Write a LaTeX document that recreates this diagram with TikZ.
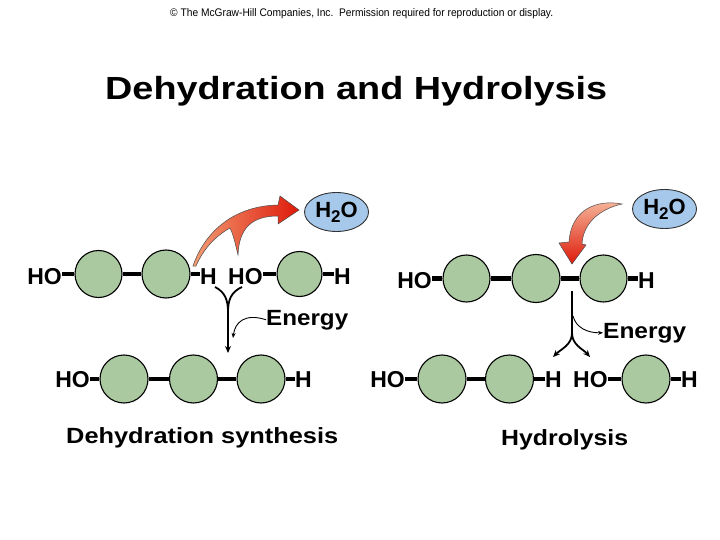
\documentclass[tikz,border=0pt]{standalone}
\usepackage{fontspec}
\setmainfont{Liberation Sans}
\usetikzlibrary{arrows.meta,shapes.geometric}
\definecolor{atomfill}{RGB}{170,201,160}
\definecolor{waterfill}{RGB}{166,200,234}
\definecolor{arrowlight}{RGB}{242,156,115}
\definecolor{arrowdark}{RGB}{222,26,10}
\newcommand\fw[2]{\resizebox{#1}{\height}{#2}}
\newcommand\wat{H\raisebox{-5pt}{\fontsize{17}{17}\selectfont 2}O}
\begin{document}
\begin{tikzpicture}[x=1pt,y=-1pt,
  atom/.style={circle,draw=black,line width=1.1pt,fill=atomfill,inner sep=0pt},
  bond/.style={line width=4.8pt},
  grp/.style={inner sep=0pt,font=\fontsize{23}{23}\selectfont\bfseries},
  water/.style={ellipse,draw=black!80,line width=0.9pt,fill=waterfill,minimum width=64pt,minimum height=39pt,inner sep=0pt,font=\fontsize{22}{22}\selectfont\bfseries},
  conn/.style={line width=1.8pt,-{Stealth[length=7pt,width=6pt]}},
  energyarrow/.style={line width=0.9pt,-{Stealth[length=5pt,width=4pt]}},
  lbl/.style={inner sep=0pt,anchor=base west,font=\fontsize{22}{22}\selectfont\bfseries},
  redarrow/.style={draw=black!70,line width=0.5pt}]
\fill[white] (0,0) rectangle (720,540);
\useasboundingbox (0,0) rectangle (720,540);

% header
\node[anchor=base west,inner sep=0pt,font=\fontsize{11}{11}\selectfont] (copy) at (170,17)
  {\fw{383pt}{\textcopyright{} The McGraw-Hill Companies, Inc.\ \ Permission required for reproduction or display.}};
\node[anchor=base west,inner sep=0pt,font=\fontsize{32}{32}\selectfont\bfseries] (title) at (105,100)
  {\fw{502pt}{Dehydration and Hydrolysis}};

% ---------- left: dehydration ----------
\node[grp,anchor=base east] (lho1) at (62,284) {HO};
\node[atom,minimum size=47pt] (la1) at (98.5,274) {};
\node[atom,minimum size=48pt] (la2) at (166,274) {};
\node[grp,anchor=base west] (lh1) at (200,284) {H};
\node[grp,anchor=base west] (lho2) at (228,284) {HO};
\node[atom,minimum size=45pt] (la3) at (299.5,274) {};
\node[grp,anchor=base west] (lh2) at (334,284) {H};
\draw[bond] (lho1.east |- la1) -- (la1.west);
\draw[bond] (la1.east) -- (la2.west);
\draw[bond] (la2.east) -- (lh1.west |- la2);
\draw[bond] (lho2.east |- la3) -- (la3.west);
\draw[bond] (la3.east) -- (lh2.west |- la3);

\node[water] (lw) at (336.5,212) {\wat};

\shadedraw[redarrow,left color=arrowlight,right color=arrowdark]
  (193,266) .. controls (203,236) and (230,206) .. (278,205) -- (280,196) -- (299,210)
  -- (278,224) -- (278,216) .. controls (252,216) and (239,228) .. (238,255)
  .. controls (235,242) and (233,234) .. (230,228)
  .. controls (214,237) and (203,250) .. (196,266) -- cycle;

\coordinate (lyl) at (215,287);
\coordinate (lyr) at (242,287);
\coordinate (lym) at (228,312);
\coordinate (lye) at (228,353);
\draw[line width=1.8pt] (lyl) .. controls (225,292) and (228,300) .. (lym);
\draw[line width=1.8pt] (lyr) .. controls (231,292) and (228,300) .. (lym);
\draw[conn] (lym) -- (lye);

\node[lbl] (len) at (266,325) {\fw{82pt}{Energy}};
\coordinate (lent) at (233,338);
\draw[energyarrow] (len.west) .. controls (245,313) and (235,322) .. (lent);

\node[grp,anchor=base east] (bho1) at (90,387) {HO};
\node[atom,minimum size=48pt] (ba1) at (124,379) {};
\node[atom,minimum size=48pt] (ba2) at (193.5,379) {};
\node[atom,minimum size=48pt] (ba3) at (261,379) {};
\node[grp,anchor=base west] (bh1) at (295,387) {H};
\draw[bond] (bho1.east |- ba1) -- (ba1.west);
\draw[bond] (ba1.east) -- (ba2.west);
\draw[bond] (ba2.east) -- (ba3.west);
\draw[bond] (ba3.east) -- (bh1.west |- ba3);

\node[lbl] (ldlab) at (66,443) {\fw{272pt}{Dehydration synthesis}};

% ---------- right: hydrolysis ----------
\node[grp,anchor=base east] (rho1) at (432,288) {HO};
\node[atom,minimum size=47pt] (ra1) at (466.5,278.5) {};
\node[atom,minimum size=48pt] (ra2) at (536,278.5) {};
\node[atom,minimum size=47pt] (ra3) at (603.5,278.5) {};
\node[grp,anchor=base west] (rh1) at (638,288) {H};
\draw[bond] (rho1.east |- ra1) -- (ra1.west);
\draw[bond] (ra1.east) -- (ra2.west);
\draw[bond] (ra2.east) -- (ra3.west);
\draw[bond] (ra3.east) -- (rh1.west |- ra3);

\node[water] (rw) at (664.5,209) {\wat};

\shadedraw[redarrow,top color=arrowlight!70!white,bottom color=arrowdark]
  (622,204) .. controls (596,199) and (571,210) .. (569,242) -- (559,243) -- (572,264)
  -- (586,245) -- (582,244) .. controls (583,223) and (600,209) .. (622,204) -- cycle;

\coordinate (ryt) at (572,291);
\coordinate (rym) at (572,333);
\coordinate (ryl) at (553,357);
\coordinate (ryr) at (590,357);
\draw[line width=1.8pt] (ryt) -- (rym);
\draw[conn] (rym) .. controls (572,345) and (561,349) .. (ryl);
\draw[conn] (rym) .. controls (572,345) and (583,349) .. (ryr);

\node[lbl] (ren) at (603,338) {\fw{83pt}{Energy}};
\coordinate (res) at (573,316);
\draw[energyarrow] (res) .. controls (576,328) and (588,333) .. (ren.west);

\node[grp,anchor=base east] (sho1) at (405,387) {HO};
\node[atom,minimum size=48pt] (sa1) at (442,379) {};
\node[atom,minimum size=48pt] (sa2) at (509.5,379) {};
\node[grp,anchor=base west] (sh1) at (545,387) {H};
\node[grp,anchor=base west] (sho2) at (573,387) {HO};
\node[atom,minimum size=48pt] (sa3) at (646,379) {};
\node[grp,anchor=base west] (sh2) at (681,387) {H};
\draw[bond] (sho1.east |- sa1) -- (sa1.west);
\draw[bond] (sa1.east) -- (sa2.west);
\draw[bond] (sa2.east) -- (sh1.west |- sa2);
\draw[bond] (sho2.east |- sa3) -- (sa3.west);
\draw[bond] (sa3.east) -- (sh2.west |- sa3);

\node[lbl] (rhlab) at (501,445) {\fw{127pt}{Hydrolysis}};
\end{tikzpicture}
\end{document}
